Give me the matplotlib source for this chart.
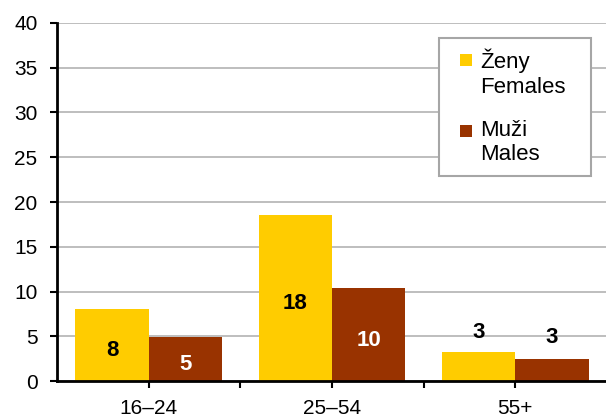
import matplotlib
matplotlib.use("Agg")
import matplotlib.pyplot as plt
import numpy as np
from matplotlib.patches import Patch, Rectangle
from matplotlib.legend_handler import HandlerPatch

plt.rcParams['font.family'] = ['Liberation Sans', 'DejaVu Sans']

categories = ["16–24", "25–54", "55+"]
females = [8.0, 18.6, 3.2]
males = [4.9, 10.4, 2.45]
female_labels = ["8", "18", "3"]
male_labels = ["5", "10", "3"]
series_names = ["Ženy\nFemales", "Muži\nMales"]

c_f = "#FFCC00"
c_m = "#993300"

W, H = 606, 419
fig = plt.figure(figsize=(W/100, H/100), dpi=100)
ax = fig.add_axes([57/W, 1-381/H, 550/W, (381-23)/H])

x = np.arange(len(categories))
w = 0.4
ax.bar(x - w/2, females, w, color=c_f, zorder=3)
ax.bar(x + w/2, males, w, color=c_m, zorder=3)

lab_fs = 16
for i in range(len(categories)):
    if i < 2:
        ax.annotate(female_labels[i], (x[i] - w/2, females[i]/2), xytext=(0, -4),
                    textcoords='offset points', ha='center', va='center',
                    fontsize=lab_fs, fontweight='bold', color='black', zorder=4)
        ax.annotate(male_labels[i], (x[i] + w/2, males[i]/2), xytext=(0, -4),
                    textcoords='offset points', ha='center', va='center',
                    fontsize=lab_fs, fontweight='bold', color='white', zorder=4)
    else:
        ax.annotate(female_labels[i], (x[i] - w/2, females[i]), xytext=(0, 14.5),
                    textcoords='offset points', ha='center', va='center',
                    fontsize=lab_fs, fontweight='bold', color='black', zorder=4)
        ax.annotate(male_labels[i], (x[i] + w/2, males[i]), xytext=(0, 15.5),
                    textcoords='offset points', ha='center', va='center',
                    fontsize=lab_fs, fontweight='bold', color='black', zorder=4)

ax.set_xlim(-0.5, 2.5)
ax.set_ylim(0, 40)
ax.set_yticks(np.arange(0, 41, 5))
ax.set_xticks(x)
ax.set_xticklabels(categories)
ax.set_xticks([0.5, 1.5], minor=True)
ax.tick_params(axis='both', which='both', direction='out', length=5, width=1.5,
               color='black', labelsize=15)
ax.tick_params(axis='x', pad=8)
ax.tick_params(axis='y', pad=9)

ax.yaxis.grid(True, color='#b3b3b3', linewidth=1.2, zorder=0)
ax.set_axisbelow(True)
for s in ['top', 'right']:
    ax.spines[s].set_visible(False)
for s in ['left', 'bottom']:
    ax.spines[s].set_linewidth(2)
    ax.spines[s].set_color('black')
    ax.spines[s].set_zorder(5)

leg_fs = 16
fs_px = leg_fs * 100 / 72.0
sq = 12.0 * 72.0 / 100  # square size in points


def square(legend, orig_handle, xdescent, ydescent, width, height, fontsize):
    # square at right end of handle area, near the top (first text line)
    return Rectangle((width - xdescent - sq, height - ydescent - sq - 4.0), sq, sq)


handles = [Patch(facecolor=c_f, edgecolor='none'), Patch(facecolor=c_m, edgecolor='none')]
bx0, bw = 439/W, 152/W
btop = 1 - 37.7/H
bh = 138/H
leg = ax.legend(handles, series_names, loc='upper left',
                bbox_to_anchor=(bx0, btop - bh, bw, bh), bbox_transform=fig.transFigure,
                mode='expand', borderaxespad=0, fontsize=leg_fs, frameon=True,
                fancybox=False, edgecolor='#a6a6a6', framealpha=1,
                borderpad=0.5, labelspacing=1.0,
                handlelength=22.0/fs_px, handleheight=1.0, handletextpad=8/fs_px,
                handler_map={Patch: HandlerPatch(patch_func=square)})
leg.get_frame().set_linewidth(1.5)
for col in leg._legend_handle_box.get_children():
    for hp in col.get_children():
        hp.align = 'top'

fig.savefig("out.png", dpi=100)
